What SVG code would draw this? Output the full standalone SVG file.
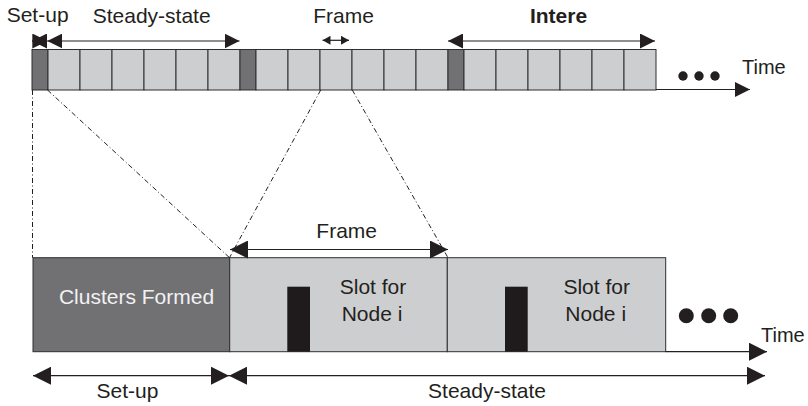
<svg xmlns="http://www.w3.org/2000/svg" width="808" height="406" viewBox="0 0 808 406">
<defs>
<style>
text{font-family:"Liberation Sans",Arial,sans-serif;font-size:21px;fill:#231f20}
.dk{fill:#717174;stroke:#2f2f2f;stroke-width:1}
.lt{fill:#cdcecf;stroke:#2f2f2f;stroke-width:1}
.bk{fill:#1f1b1c}
.ln{stroke:#231f20;stroke-width:1.2;fill:none}
.dd{stroke:#231f20;stroke-width:1;fill:none;stroke-dasharray:5 2.5 1 2.5}
.dot{fill:#231f20}
</style>
<marker id="ahS" viewBox="0 0 15 15" refX="15" refY="7.5" markerWidth="15" markerHeight="15" markerUnits="userSpaceOnUse" orient="auto-start-reverse"><path d="M0,0 L15,7.5 L0,15 z" fill="#231f20"/></marker>
<marker id="ahXS" viewBox="0 0 8 9" refX="8" refY="4.5" markerWidth="8" markerHeight="9" markerUnits="userSpaceOnUse" orient="auto-start-reverse"><path d="M0,0 L8,4.5 L0,9 z" fill="#231f20"/></marker>
<marker id="ahL" viewBox="0 0 18 18" refX="18" refY="9" markerWidth="18" markerHeight="18" markerUnits="userSpaceOnUse" orient="auto-start-reverse"><path d="M0,0 L18,9 L0,18 z" fill="#231f20"/></marker>
</defs>
<rect width="808" height="406" fill="#fff"/>

<g id="top-timeline">
<rect class="dk" x="32" y="49.5" width="16" height="40.5"/>
<rect class="lt" x="48" y="49.5" width="32" height="40.5"/>
<rect class="lt" x="80" y="49.5" width="32" height="40.5"/>
<rect class="lt" x="112" y="49.5" width="32" height="40.5"/>
<rect class="lt" x="144" y="49.5" width="32" height="40.5"/>
<rect class="lt" x="176" y="49.5" width="32" height="40.5"/>
<rect class="lt" x="208" y="49.5" width="32" height="40.5"/>
<rect class="dk" x="240" y="49.5" width="16" height="40.5"/>
<rect class="lt" x="256" y="49.5" width="32" height="40.5"/>
<rect class="lt" x="288" y="49.5" width="32" height="40.5"/>
<rect class="lt" x="320" y="49.5" width="32" height="40.5"/>
<rect class="lt" x="352" y="49.5" width="32" height="40.5"/>
<rect class="lt" x="384" y="49.5" width="32" height="40.5"/>
<rect class="lt" x="416" y="49.5" width="32" height="40.5"/>
<rect class="dk" x="448" y="49.5" width="16" height="40.5"/>
<rect class="lt" x="464" y="49.5" width="32" height="40.5"/>
<rect class="lt" x="496" y="49.5" width="32" height="40.5"/>
<rect class="lt" x="528" y="49.5" width="32" height="40.5"/>
<rect class="lt" x="560" y="49.5" width="32" height="40.5"/>
<rect class="lt" x="592" y="49.5" width="32" height="40.5"/>
<rect class="lt" x="624" y="49.5" width="32" height="40.5"/>
<circle class="dot" cx="683" cy="76" r="4.7"/>
<circle class="dot" cx="699" cy="76" r="4.7"/>
<circle class="dot" cx="715" cy="76" r="4.7"/>
</g>

<g id="clusters-formed">
<rect class="dk" x="33" y="257.7" width="196.7" height="94"/>
<text x="136.5" y="304.3" text-anchor="middle" style="fill:#f2f2f2">Clusters Formed</text>
</g>

<g id="frame-1">
<rect class="lt" x="229.7" y="257.7" width="217.6" height="94"/>
<rect class="bk" x="287.3" y="286.7" width="22.7" height="65"/>
<text x="373" y="294.3" text-anchor="middle">Slot for</text>
<text x="372" y="321" text-anchor="middle">Node i</text>
</g>

<g id="frame-2">
<rect class="lt" x="447.3" y="257.7" width="218.4" height="94"/>
<rect class="bk" x="505" y="286.7" width="22.7" height="65"/>
<text x="596.7" y="294.3" text-anchor="middle">Slot for</text>
<text x="595.7" y="321" text-anchor="middle">Node i</text>
<circle class="dot" cx="686.3" cy="315.7" r="7.5"/>
<circle class="dot" cx="708.7" cy="315.7" r="7.5"/>
<circle class="dot" cx="730.7" cy="315.7" r="7.5"/>
</g>

<g id="connectors">
<line class="dd" x1="32.5" y1="90" x2="32.5" y2="257.7"/>
<line class="dd" x1="47.5" y1="90" x2="229.5" y2="257.7"/>
<line class="dd" x1="320.7" y1="90" x2="229.5" y2="257.7"/>
<line class="dd" x1="352.3" y1="90" x2="448" y2="257.7"/>

<line class="ln" x1="32" y1="41" x2="47.3" y2="41" marker-start="url(#ahS)" marker-end="url(#ahS)"/>
<line class="ln" x1="47.3" y1="41" x2="239.5" y2="41" marker-start="url(#ahS)" marker-end="url(#ahS)"/>
<line class="ln" x1="322.5" y1="40.3" x2="349" y2="40.3" marker-start="url(#ahXS)" marker-end="url(#ahXS)"/>
<line class="ln" x1="448" y1="41" x2="655" y2="41" marker-start="url(#ahS)" marker-end="url(#ahS)"/>
<line class="ln" x1="656" y1="89.5" x2="750" y2="89.5" marker-end="url(#ahS)"/>

<line class="ln" x1="230" y1="249.5" x2="448" y2="249.5" marker-start="url(#ahL)" marker-end="url(#ahL)"/>
<line class="ln" x1="665.7" y1="351.7" x2="767" y2="351.7" marker-end="url(#ahL)"/>
<line class="ln" x1="33" y1="375.7" x2="229" y2="375.7" marker-start="url(#ahL)" marker-end="url(#ahL)"/>
<line class="ln" x1="229" y1="375.7" x2="765" y2="375.7" marker-start="url(#ahL)" marker-end="url(#ahL)"/>
</g>

<g id="labels">
<text x="6.7" y="22.3">Set-up</text>
<text x="151.7" y="23" text-anchor="middle">Steady-state</text>
<text x="343.5" y="23.3" text-anchor="middle">Frame</text>
<text x="558.5" y="23.3" text-anchor="middle" font-weight="bold">Intere</text>
<text x="742" y="74" style="font-size:20px">Time</text>
<text x="346.7" y="238" text-anchor="middle">Frame</text>
<text x="761" y="341.7" style="font-size:20px">Time</text>
<text x="127.5" y="398.3" text-anchor="middle">Set-up</text>
<text x="487" y="398.3" text-anchor="middle">Steady-state</text>
</g>
</svg>
